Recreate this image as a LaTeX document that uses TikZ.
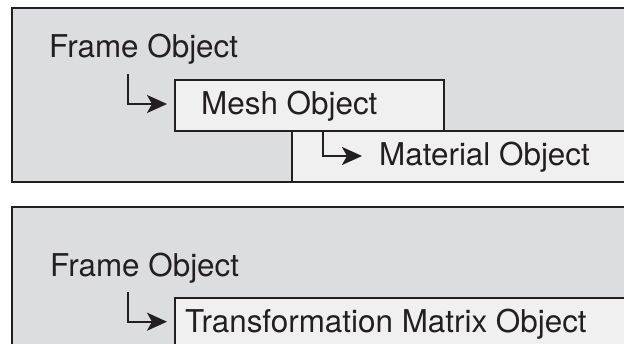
\documentclass[tikz,border=0pt]{standalone}
\usepackage{fontspec}
\setmainfont{TeX Gyre Heros}
\usetikzlibrary{arrows.meta,calc}
\definecolor{outerfill}{HTML}{DCDDDF}
\definecolor{innerfill}{HTML}{F0F0F0}
\definecolor{ink}{HTML}{231F20}
\tikzset{
  outerbox/.style={draw=ink, fill=outerfill, line width=2pt, inner sep=0pt, anchor=north west},
  innerbox/.style={draw=ink, fill=innerfill, line width=2pt, inner sep=0pt, anchor=north west},
  lbl/.style={anchor=base west, inner sep=0pt, font=\fontsize{31.4}{36}\selectfont, text=ink},
  arr/.style={draw=ink, line width=2pt, -{Stealth[length=20pt,width=18pt,inset=5pt]}},
}
\begin{document}
\begin{tikzpicture}[x=1pt,y=-1pt]
\useasboundingbox (0,0) rectangle (624,343);
\clip (0,0) rectangle (624,343);
% top panel
\node[outerbox, minimum width=700pt, minimum height=174pt] (toppanel) at (11,7) {};
\node[innerbox, minimum width=420pt, minimum height=51pt] (matbox) at (291,130) {};
\node[innerbox, minimum width=269pt, minimum height=51pt] (meshbox) at (174,79) {};
\node[lbl] (frame1) at (49,57) {Frame Object};
\node[lbl] (meshtext) at (201,114) {Mesh Object};
\node[lbl] (mattext) at (379,165) {Material Object};
\coordinate (c1) at (128,74);
\coordinate (c2) at (323,130);
\draw[arr] (c1) |- ($(meshbox.west)+(-7,-1.5)$);
\draw[arr] (c2) |- ($(matbox.west)+(71,-0.5)$);
% bottom panel
\node[outerbox, minimum width=700pt, minimum height=200pt] (botpanel) at (11,206) {};
\node[innerbox, minimum width=520pt, minimum height=100pt] (tmobox) at (174,297) {};
\node[lbl] (frame2) at (50,276) {Frame Object};
\node[lbl] (tmotext) at (185,332) {Transformation Matrix Object};
\coordinate (c3) at (128,292);
\draw[arr] (c3) |- ($(tmobox.west |- tmotext.west)+(-7,-2)$);
\end{tikzpicture}
\end{document}
